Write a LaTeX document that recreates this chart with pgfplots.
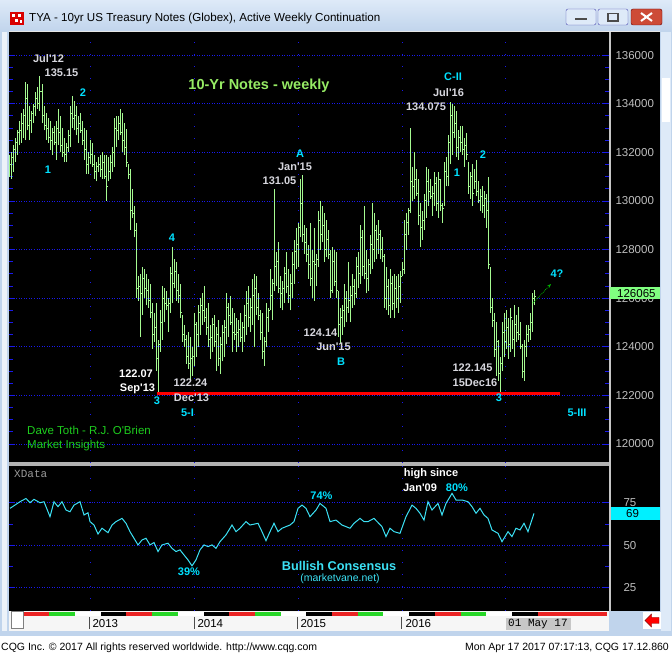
\documentclass[border=0pt]{standalone}
\usepackage{pgfplots}
\pgfplotsset{compat=1.18}
\usepackage{pgfplotstable}
\usepackage{fontspec}
\setmainfont{Liberation Sans}[Ligatures=TeXOff]
\setmonofont{Liberation Mono}
\usetikzlibrary{arrows.meta}

\definecolor{frame}{RGB}{192,212,236}
\definecolor{frametop}{RGB}{222,234,248}
\definecolor{barc}{RGB}{165,250,145}
\definecolor{wave}{RGB}{0,225,255}
\definecolor{lbl}{RGB}{215,215,222}
\definecolor{ttl}{RGB}{150,235,100}
\definecolor{sig}{RGB}{30,205,30}
\definecolor{cons}{RGB}{60,225,245}
\definecolor{grd}{RGB}{25,25,235}
\definecolor{tlg}{RGB}{190,190,190}
\definecolor{qred}{RGB}{235,35,35}
\definecolor{qgreen}{RGB}{40,215,40}
\definecolor{pbox}{RGB}{128,255,128}
\definecolor{cbox}{RGB}{0,240,255}

\pgfdeclareplotmark{cltick}{\pgfpathmoveto{\pgfqpoint{0pt}{0pt}}\pgfpathlineto{\pgfqpoint{1.6pt}{0pt}}\pgfusepathqstroke}
\pgfdeclareplotmark{optick}{\pgfpathmoveto{\pgfqpoint{-1.6pt}{0pt}}\pgfpathlineto{\pgfqpoint{0pt}{0pt}}\pgfusepathqstroke}

\newcommand\lb{\fontsize{11}{11}\selectfont\bfseries}

% weekly bars: week, low, high, close
\pgfplotstableread{
i lo hi cl
0 131.0 131.9 131.5
1 130.9 132.0 131.8
2 131.2 132.3 132.1
3 131.6 132.6 132.4
4 131.9 132.9 132.8
5 132.3 133.3 132.9
6 132.4 133.6 133.2
7 132.6 133.8 133.5
8 132.5 134.9 134.2
9 132.9 134.8 133.1
10 132.5 133.9 133.3
11 132.8 133.7 133.6
12 133.2 134.0 133.9
13 133.5 134.5 134.2
14 133.8 134.7 134.0
15 133.7 135.15 134.5
16 133.2 134.8 133.5
17 132.9 133.9 133.1
18 132.5 133.6 133.0
19 132.4 133.4 132.6
20 132.1 133.3 132.5
21 131.9 133.0 132.8
22 132.3 133.1 132.4
23 131.7 133.3 133.0
24 132.3 133.8 132.8
25 132.0 133.5 132.3
26 131.8 133.0 132.0
27 131.6 132.6 131.9
28 131.6 132.4 132.2
29 132.0 132.9 132.7
30 132.2 133.9 133.6
31 133.0 134.3 133.4
32 132.9 134.1 133.5
33 132.7 133.9 133.0
34 132.4 133.5 133.2
35 132.8 133.6 132.9
36 132.3 133.3 132.5
37 131.7 133.0 132.1
38 131.1 132.9 131.5
39 131.1 132.0 131.8
40 131.5 132.5 131.9
41 131.4 132.4 131.5
42 130.9 131.9 131.2
43 130.8 131.6 131.4
44 131.2 131.8 131.5
45 131.0 131.9 131.3
46 130.9 132.0 131.6
47 130.9 131.9 131.0
48 130.0 131.9 130.6
49 130.8 131.8 131.2
50 130.9 131.9 131.6
51 131.2 132.2 132.0
52 131.4 133.4 133.0
53 132.2 133.5 132.9
54 132.5 133.5 133.2
55 132.7 133.8 132.8
56 132.0 133.6 132.5
57 131.9 133.2 132.2
58 131.4 132.95 131.6
59 130.9 131.5 131.1
60 128.8 131.3 129.6
61 129.3 130.5 129.5
62 128.5 129.8 128.8
63 126.0 129.1 126.4
64 125.9 126.9 126.5
65 124.4 127.0 126.2
66 125.3 127.3 126.8
67 126.0 127.2 126.4
68 125.7 127.0 126.3
69 125.6 126.8 125.9
70 125.2 126.6 125.4
71 123.9 125.8 124.5
72 124.2 125.4 124.8
73 123.0 125.8 123.5
74 122.07 124.3 124.1
75 123.8 125.5 125.0
76 124.3 126.5 126.0
77 125.0 126.4 125.8
78 125.5 126.3 125.7
79 124.6 126.0 125.8
80 125.4 127.3 127.0
81 125.8 128.1 126.6
82 126.4 127.6 127.1
83 125.9 127.5 126.3
84 125.8 127.0 126.1
85 125.2 126.6 125.4
86 124.2 125.3 124.5
87 124.0 124.9 124.3
88 123.3 124.5 123.6
89 123.1 124.6 123.3
90 122.6 124.4 123.5
91 122.8 124.0 123.6
92 123.2 125.4 124.9
93 123.6 125.0 124.5
94 124.0 125.7 125.4
95 124.5 126.0 125.7
96 124.9 126.2 125.5
97 125.0 126.5 125.2
98 124.5 125.6 124.8
99 124.0 125.8 124.3
100 123.5 124.9 124.4
101 123.8 125.2 124.9
102 124.0 125.3 124.2
103 123.0 124.8 124.5
104 123.2 125.1 123.5
105 122.9 124.4 124.1
106 123.4 124.9 124.6
107 123.6 125.1 124.8
108 124.1 126.2 125.6
109 124.4 125.8 125.3
110 124.9 126.1 125.0
111 123.8 125.6 124.6
112 124.3 125.4 124.5
113 123.8 125.2 124.6
114 124.0 125.1 124.7
115 124.2 125.4 124.4
116 123.8 125.0 124.8
117 124.2 125.7 125.3
118 124.5 126.3 125.8
119 124.8 126.5 125.2
120 124.6 126.0 125.6
121 124.9 126.8 126.1
122 124.0 127.0 126.4
123 125.3 126.9 125.6
124 125.1 126.2 125.3
125 124.3 125.5 124.6
126 123.5 125.4 123.8
127 123.2 124.4 124.2
128 124.0 125.8 125.2
129 124.6 125.6 125.5
130 125.5 127.2 126.1
131 125.1 126.8 126.6
132 126.3 130.5 127.3
133 126.5 127.9 127.5
134 126.2 128.3 126.4
135 125.6 126.9 126.2
136 125.5 126.7 126.4
137 125.8 127.3 127.0
138 126.2 127.9 126.5
139 125.8 127.2 126.1
140 125.5 127.0 126.6
141 126.0 127.9 127.4
142 126.6 128.4 127.9
143 127.2 128.9 128.2
144 127.3 129.1 128.9
145 128.5 130.9 129.9
146 128.3 131.05 128.6
147 127.8 129.0 128.3
148 127.5 128.9 127.8
149 126.8 128.2 127.4
150 126.5 129.1 126.8
151 126.0 128.0 127.5
152 125.9 128.9 127.4
153 126.5 127.8 127.6
154 127.3 129.6 129.2
155 128.0 130.0 128.6
156 128.3 129.8 129.0
157 127.5 129.5 128.0
158 127.7 129.2 128.4
159 127.6 128.8 127.8
160 126.0 128.0 126.3
161 126.2 128.1 127.5
162 126.5 128.0 126.7
163 126.0 127.9 126.3
164 124.4 126.3 124.9
165 124.14 125.6 125.2
166 124.5 125.7 125.5
167 124.8 126.6 126.0
168 125.0 126.3 125.6
169 125.4 127.5 125.9
170 125.0 126.5 126.1
171 125.6 127.0 126.5
172 125.7 126.8 126.2
173 126.0 127.7 127.3
174 126.4 127.9 127.0
175 126.6 129.0 128.5
176 126.9 128.8 127.3
177 126.8 129.8 127.0
178 126.2 128.0 126.8
179 126.3 127.6 127.4
180 127.0 128.6 128.2
181 127.2 129.9 128.0
182 127.5 129.5 128.8
183 127.6 129.0 128.4
184 127.8 129.2 128.6
185 127.6 128.8 128.0
186 127.5 128.5 127.7
187 125.6 127.8 126.0
188 125.5 127.3 126.5
189 125.3 126.8 125.7
190 125.2 127.2 126.6
191 125.5 126.9 125.8
192 125.2 127.0 126.4
193 125.6 126.9 126.0
194 125.4 127.0 126.5
195 125.8 127.1 126.9
196 126.9 127.5 127.2
197 127.0 129.2 128.6
198 128.0 129.5 129.1
199 128.6 129.7 129.6
200 129.5 133.0 130.8
201 130.0 131.4 130.6
202 130.1 132.0 130.9
203 130.2 131.3 130.3
204 129.0 130.9 129.4
205 128.1 129.9 128.9
206 128.4 129.6 129.2
207 128.8 130.3 130.0
208 129.3 131.4 130.8
209 129.8 131.3 130.4
210 130.1 130.9 130.2
211 129.4 130.6 130.3
212 129.8 131.2 130.7
213 129.6 131.0 129.9
214 129.3 131.2 130.9
215 129.6 130.9 129.8
216 129.1 129.9 129.7
217 129.8 131.6 131.2
218 130.6 131.8 131.0
219 130.6 132.7 132.4
220 131.5 134.075 133.5
221 131.9 134.0 132.8
222 132.6 133.9 133.2
223 131.8 133.7 132.2
224 131.7 132.9 132.6
225 132.0 133.1 132.4
226 131.9 133.1 132.1
227 131.4 132.6 132.3
228 131.7 132.8 131.9
229 130.3 131.6 130.6
230 130.1 131.2 131.0
231 129.8 131.5 130.3
232 130.5 131.3 130.8
233 130.2 131.7 130.4
234 129.9 130.8 130.0
235 129.6 130.5 130.2
236 129.5 130.6 129.8
237 129.3 130.4 130.1
238 128.9 130.3 129.6
239 127.2 131.0 127.4
240 125.4 127.3 125.6
241 124.8 126.0 125.1
242 123.6 125.4 123.9
243 122.8 125.0 124.2
244 122.6 124.3 122.9
245 122.145 123.6 123.3
246 123.0 125.0 124.6
247 123.6 125.4 124.2
248 123.9 125.5 124.8
249 123.5 125.2 124.1
250 123.8 125.6 125.2
251 123.9 125.1 124.3
252 123.6 125.7 124.9
253 124.2 125.3 124.6
254 124.3 125.65 124.5
255 123.9 125.0 124.0
256 122.7 124.1 123.0
257 122.6 124.3 124.0
258 123.6 124.9 124.5
259 124.2 124.9 124.7
260 124.3 125.4 125.0
261 124.6 126.2 126.0
262 125.7 126.35 126.065
}\bars

% bullish consensus (%)
\pgfplotstableread{
i v
0 71.7
5 75.6
8 77.5
10 75.0
12 77.0
15 75.0
17 75.6
20 66.8
22 75.6
24 72.7
26 75.6
28 70.7
30 69.7
32 73.6
35 75.6
37 67.8
39 69.1
40 63.9
42 61.9
44 56.6
46 60.0
49 57.4
51 61.9
53 63.9
56 65.8
58 62.9
60 58.0
64 50.2
66 53.1
68 54.1
70 50.2
72 51.6
74 46.3
76 50.2
79 51.2
81 48.2
83 46.3
85 47.3
87 44.3
89 41.4
91 37.9
93 41.4
95 47.3
97 50.2
99 49.2
101 50.2
103 48.2
105 52.1
108 56.1
111 61.9
113 58.0
115 60.0
118 63.9
120 61.9
124 62.9
126 58.0
128 52.7
130 58.0
132 62.9
134 58.0
136 60.0
140 61.9
142 63.9
144 71.7
146 73.6
148 71.7
150 66.8
153 70.7
155 74.6
158 71.7
160 63.9
163 64.8
166 61.9
170 60.0
172 62.9
175 65.8
177 63.9
179 63.9
182 65.8
186 60.9
188 55.1
190 60.0
192 58.0
195 57.0
198 66.8
201 73.6
203 71.7
205 68.8
207 64.8
209 75.6
211 70.7
214 74.6
216 67.8
218 74.6
220 78.5
221 80.5
223 76.6
226 76.6
229 75.6
231 72.7
233 68.8
235 71.7
237 67.8
239 65.8
241 59.0
244 57.0
246 52.1
249 58.0
251 55.1
253 60.0
255 59.0
257 62.9
259 58.0
262 68.75
}\consensus

\pgfplotsset{cqg/.style={
  scale only axis, width=600pt, xmin=-0.5, xmax=299.5,
  anchor=south west,
  axis line style={draw=none},
  tick style={grd, line width=0.8pt},
  major x tick style={draw=none},
  tick align=inside,
  major tick length=6pt, minor tick length=4pt,
  ymajorgrids,
  grid style={grd, line width=0.8pt, dash pattern=on 1pt off 1.5pt},
  yticklabel pos=right,
  /pgf/number format/assume math mode=true,
  yticklabel style={font=\fontsize{11.5}{12}\selectfont, text=tlg, anchor=west, xshift=3pt},
}}

\begin{document}
\begin{tikzpicture}
% window frame and panels
\begin{scope}[x=1pt,y=1pt,yshift=656pt,yscale=-1]
  \fill[frame] (0,0) rectangle (672,636);
  \shade[top color=frametop, bottom color=frame] (0,0) rectangle (672,32);
  \fill[white] (0,636) rectangle (672,656);
  \fill[white!70!frame] (2,32) rectangle (7,631);
  \fill[black] (9,32) rectangle (660,611);
  \draw[white!80!gray] (9,31.5) -- (660,31.5);
  \fill[frametop] (661,32) rectangle (671,631);
  \fill[white] (662,78) rectangle (670,122);
  \fill[white!93!gray] (9,611) rectangle (609,631);
  \fill[gray!60] (9,462.5) rectangle (609,466);
  \fill[gray!45] (609,32) rectangle (610.5,611);
\end{scope}

\begin{axis}[cqg, at={(9pt,193pt)}, height=431pt,
  ymin=119.22, ymax=136.95,
  xtick=\empty,
  ytick={120,122,...,136},
  yticklabels={120000,122000,124000,126000,128000,130000,132000,134000,136000},
  minor y tick num=3]
  \pgfplotsinvokeforeach{40,92,144,196,247.5}{
    \draw[grd, line width=0.8pt, dash pattern=on 1pt off 11pt] (axis cs:#1,119.22) -- (axis cs:#1,136.95);}
  \addplot[draw=none, mark=none, forget plot,
    error bars/.cd, y dir=plus, y explicit, error mark=none,
    error bar style={draw=barc, line width=1pt}]
    table[x=i, y=lo, y error expr=\thisrow{hi}-\thisrow{lo}] {\bars};
  \addplot[barc, line width=1pt, only marks, mark=cltick] table[x=i, y=cl] {\bars};
  \addplot[barc, line width=1pt, only marks, mark=optick, restrict x to domain=0:262.5]
    table[x expr=\thisrow{i}+1, y=cl] {\bars};
  \addplot[red, line width=3pt] coordinates {(73.5,122.07) (275,122.07)};
\end{axis}

\begin{axis}[cqg, at={(9pt,45pt)}, height=145pt,
  ymin=11.35, ymax=96.6,
  xtick={39.5,92,143.5,196},
  xticklabels={2013,2014,2015,2016},
  xticklabel style={anchor=north west, font=\fontsize{11.5}{12}\selectfont, text=black, yshift=-5pt, xshift=0pt},
  ytick={25,50,75},
  minor y tick num=1,
  yticklabel style={xshift=8pt}]
  \pgfplotsinvokeforeach{40,92,144,196,247.5}{
    \draw[grd, line width=0.8pt, dash pattern=on 1pt off 11pt] (axis cs:#1,11.35) -- (axis cs:#1,96.6);}
  \addplot[cons, line width=1pt, mark=none] table[x=i, y=v] {\consensus};
\end{axis}

\begin{scope}[x=1pt,y=1pt,yshift=656pt,yscale=-1]
  % title bar
  \fill[red!85!black] (10,12) rectangle (24,25);
  \fill[white] (12,14) rectangle (15,17); \fill[white] (18,14) rectangle (21,17);
  \fill[white] (15,19) rectangle (18,22); \fill[white] (20,20) rectangle (22,23);
  \node[anchor=west, inner sep=0, font=\fontsize{11.6}{12}\selectfont] at (29,18.5)
    {TYA - 10yr US Treasury Notes (Globex), Active Weekly Continuation};
  \draw[rounded corners=2pt, fill=frametop, draw=gray!60!blue] (566,9) rectangle (596,25);
  \fill[black!70] (575,18) rectangle (587,20.5);
  \draw[rounded corners=2pt, fill=frametop, draw=gray!60!blue] (598,9) rectangle (628,25);
  \draw[black!70, line width=1.5pt] (608,13.5) rectangle (618,21);
  \draw[rounded corners=2pt, fill={rgb,255:red,205;green,75;blue,55}, draw=red!40!black] (631,9) rectangle (662,25);
  \draw[white, line width=2pt] (641,13) -- (652,21) (641,21) -- (652,13);

  % main panel labels
  \node[text=lbl, font=\lb] at (48.5,59) {Jul'12};
  \node[text=lbl, font=\lb] at (61.5,73) {135.15};
  \node[text=wave, font=\lb] at (48,170) {1};
  \node[text=wave, font=\lb] at (83,93) {2};
  \node[text=ttl, font=\fontsize{14.5}{15}\selectfont\bfseries] at (259,86) {10-Yr Notes - weekly};
  \node[text=wave, font=\lb] at (172,238) {4};
  \node[text=white, font=\lb] at (136,374) {122.07};
  \node[text=white, font=\lb] at (137.5,389) {Sep'13};
  \node[text=wave, font=\lb] at (157,401) {3};
  \node[text=lbl, font=\lb] at (190.5,383) {122.24};
  \node[text=lbl, font=\lb] at (191.5,398) {Dec'13};
  \node[text=wave, font=\lb] at (187.5,413) {5-I};
  \node[text=wave, font=\lb] at (300,154) {A};
  \node[text=lbl, font=\lb] at (295,167) {Jan'15};
  \node[text=lbl, font=\lb] at (279.5,181) {131.05};
  \node[text=lbl, font=\lb] at (320.5,333) {124.14};
  \node[text=lbl, font=\lb] at (333.5,347) {Jun'15};
  \node[text=wave, font=\lb] at (341,362) {B};
  \node[text=wave, font=\lb] at (453,77) {C-II};
  \node[text=lbl, font=\lb] at (448.5,93) {Jul'16};
  \node[text=lbl, font=\lb] at (426,107) {134.075};
  \node[text=wave, font=\lb] at (457,173) {1};
  \node[text=wave, font=\lb] at (483,155) {2};
  \node[text=lbl, font=\lb] at (472.5,368) {122.145};
  \node[text=lbl, font=\lb] at (475,383) {15Dec16};
  \node[text=wave, font=\lb] at (499,398) {3};
  \node[text=wave, font=\lb] at (557,274) {4?};
  \node[text=wave, font=\lb] at (577,413) {5-III};
  \draw[green!70!black, line width=0.8pt, densely dotted, -{Stealth[length=4pt,width=3pt]}] (533,303) -- (551,284);
  \node[anchor=west, inner sep=0, text=sig, font=\fontsize{11.5}{12}\selectfont] at (27,430) {Dave Toth - R.J. O'Brien};
  \node[anchor=west, inner sep=0, text=sig, font=\fontsize{11.5}{12}\selectfont] at (27,446) {Market Insights};

  % price box
  \fill[pbox] (609.5,287) rectangle (660,299.5);
  \node[anchor=west, inner sep=0, font=\fontsize{11.5}{12}\selectfont] at (617,293.5) {126065};

  % lower panel labels
  \node[anchor=west, inner sep=0, text=gray!80, font=\ttfamily\fontsize{11}{11}\selectfont] at (14,474) {XData};
  \node[text=white, font=\lb] at (431,474) {high since};
  \node[text=white, font=\lb] at (420,488) {Jan'09};
  \node[text=wave, font=\lb] at (457,488) {80\%};
  \node[text=wave, font=\lb] at (321.5,496) {74\%};
  \node[text=wave, font=\lb] at (189,572) {39\%};
  \node[text=cons, font=\fontsize{12.7}{13}\selectfont\bfseries] at (339,566) {Bullish Consensus};
  \node[text=cons, font=\fontsize{10.5}{11}\selectfont] at (340,579) {(marketvane.net)};
  \fill[cbox] (610.5,507.5) rectangle (660,520);
  \node[anchor=west, inner sep=0, font=\fontsize{11.5}{12}\selectfont] at (626,513.8) {69};

  % time strip
  \foreach \c in {0,...,4}{
    \fill[qred] ({23.6+102.8*\c},612) rectangle +(25.7,4);
    \fill[qgreen] ({49.3+102.8*\c},612) rectangle +(25.7,4);
    \fill[white] ({75+102.8*\c},612) rectangle +(25.7,4);
    \fill[black] ({100.7+102.8*\c},612) rectangle +(25.7,4);
  }
  \fill[qred] (537.6,612) rectangle (606.5,616);
  \draw[gray, fill=white] (11,611.5) rectangle (23,628);
  \foreach \xx in {89,194,297,401.6}{\draw[black!70] (\xx,617) -- (\xx,629);}
  \fill[black!22] (506,618) rectangle (571,630);
  \node[anchor=west, inner sep=0, font=\ttfamily\fontsize{11}{11}\selectfont] at (508,624) {01 May 17};
  \fill[white] (643,612) rectangle (661,629);
  \draw[fill=red, draw=red!50!black] (645,620.5) -- (651.5,614) -- (651.5,617.5) -- (659,617.5) -- (659,623.5) -- (651.5,623.5) -- (651.5,627) -- cycle;

  % footer
  \node[anchor=west, inner sep=0, font=\fontsize{10.5}{11}\selectfont] at (1,648)
    {CQG Inc. \textcopyright{} 2017 All rights reserved worldwide. http://www.cqg.com};
  \node[anchor=east, inner sep=0, font=\fontsize{10.5}{11}\selectfont] at (669,648)
    {Mon Apr 17 2017 07:17:13, CQG 17.12.860};
\end{scope}
\pgfresetboundingbox
\useasboundingbox (0,0) rectangle (672pt,656pt);
\end{tikzpicture}
\end{document}
